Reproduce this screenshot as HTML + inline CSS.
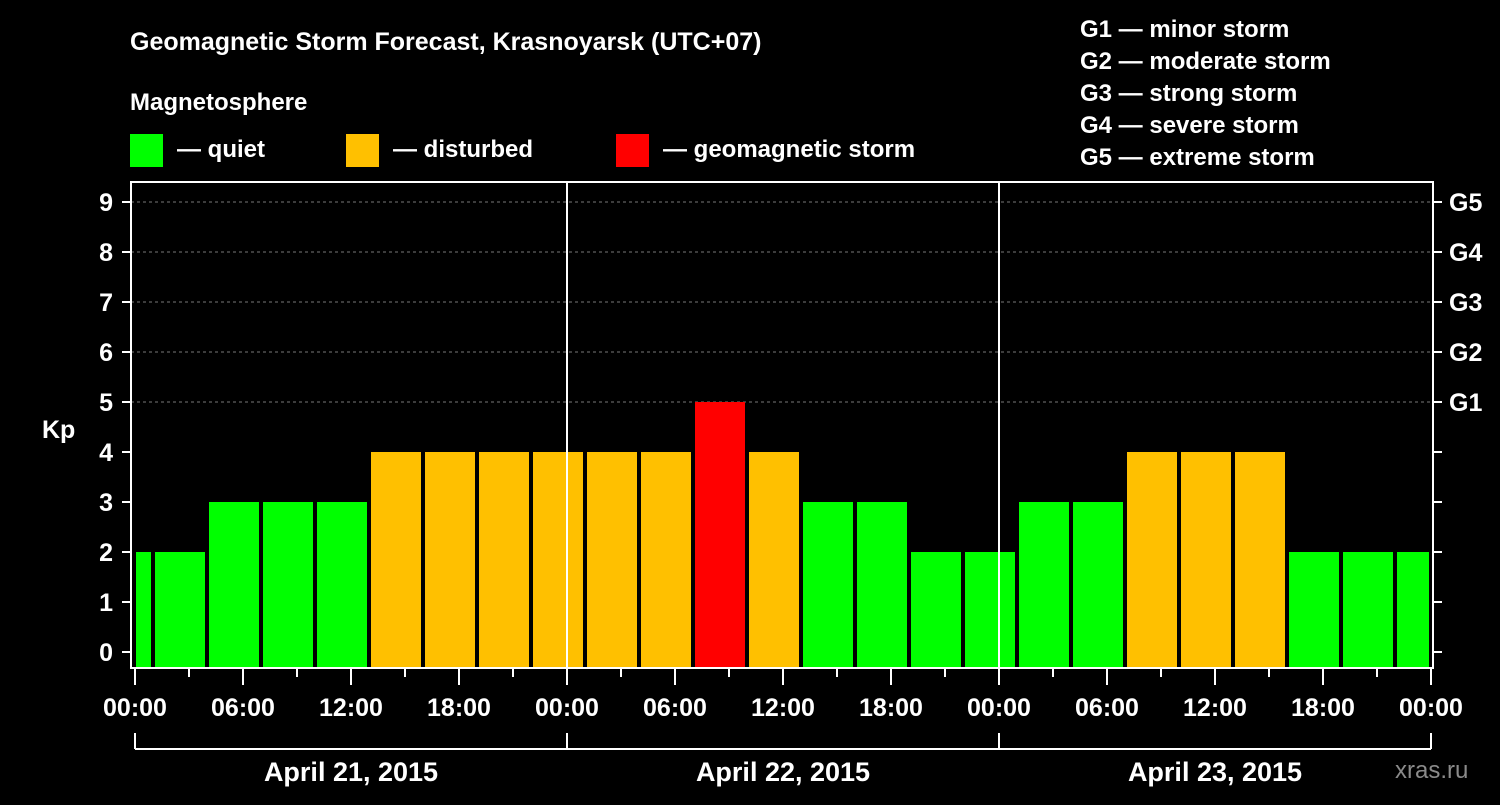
<!DOCTYPE html>
<html><head><meta charset="utf-8"><style>
body{margin:0;background:#000;}
svg text{font-family:"Liberation Sans",sans-serif;font-weight:bold;fill:#fff;}
</style></head><body>
<svg id="c" width="1500" height="800">
<text x="130" y="50" font-size="25">Geomagnetic Storm Forecast, Krasnoyarsk (UTC+07)</text>
<text x="130" y="110" font-size="24">Magnetosphere</text>
<g><rect x="130" y="134" width="33" height="33" fill="#00ff00"/><text x="177" y="157" font-size="24">— quiet</text></g>
<g><rect x="346" y="134" width="33" height="33" fill="#ffc000"/><text x="393" y="157" font-size="24">— disturbed</text></g>
<g><rect x="616" y="134" width="33" height="33" fill="#ff0000"/><text x="663" y="157" font-size="24">— geomagnetic storm</text></g>
<g font-size="24">
<text x="1080" y="37">G1 — minor storm</text><text x="1080" y="69">G2 — moderate storm</text><text x="1080" y="101">G3 — strong storm</text><text x="1080" y="133">G4 — severe storm</text><text x="1080" y="165">G5 — extreme storm</text></g>
<text x="42" y="438" font-size="25">Kp</text>
<text x="1395" y="778" font-size="24" fill="#888" style="fill:#8a8a8a;font-weight:normal">xras.ru</text>
<g id="plot"></g>
</svg>
<script>
const kpValues=[2,2,3,3,3,4,4,4,4,4,4,5,4,3,3,2,2,3,3,4,4,4,2,2,2];
const hourLabels=["00:00","06:00","12:00","18:00"];
const dayLabels=["April 21, 2015","April 22, 2015","April 23, 2015"];
const gLabels=["G1","G2","G3","G4","G5"];
const X0=135,PX=18,L=131,R=1433,T=182,B=668;
const xs=h=>X0+h*PX, ys=k=>652-k*50;
const ns="http://www.w3.org/2000/svg",g=document.getElementById('plot');
function mk(t,a,txt){const e=document.createElementNS(ns,t);for(const k in a)e.setAttribute(k,a[k]);if(txt!==undefined)e.textContent=txt;g.appendChild(e);return e;}
for(let k=6;k<=9;k++){const l=mk('line',{x1:L,x2:R,y1:ys(k),y2:ys(k),stroke:'#777','stroke-dasharray':'3,3'});}
mk('line',{x1:L,x2:R,y1:ys(5),y2:ys(5),stroke:'#777','stroke-dasharray':'3,3'});
kpValues.forEach((v,i)=>{let s=-2+3*i,e=s+3;s=Math.max(s,0);e=Math.min(e,72);
const x1=xs(s)+(s==0?1:2),x2=xs(e)-2;
const col=v>=5?'#ff0000':v==4?'#ffc000':'#00ff00';
const r=mk('rect',{x:x1,y:ys(v),width:x2-x1,height:B-ys(v),fill:col});

});
[1,2].forEach(d=>{const l=mk('line',{x1:xs(24*d),x2:xs(24*d),y1:T,y2:B,stroke:'#fff','stroke-width':2});});
const fr=mk('rect',{x:L,y:T,width:R-L,height:B-T,fill:'none',stroke:'#fff','stroke-width':2});

for(let k=0;k<=9;k++){mk('line',{x1:L-9,x2:L,y1:ys(k),y2:ys(k),stroke:'#fff','stroke-width':2});mk('line',{x1:R,x2:R+9,y1:ys(k),y2:ys(k),stroke:'#fff','stroke-width':2});
const t=mk('text',{x:113,y:ys(k)+9,'font-size':25,'text-anchor':'end'},k);}
gLabels.forEach((s,i)=>{const t=mk('text',{x:1449,y:ys(5+i)+9,'font-size':25},s);});
for(let h=0;h<=72;h+=3){const long=h%6==0;mk('line',{x1:xs(h),x2:xs(h),y1:B,y2:B+(long?17:9),stroke:'#fff','stroke-width':2});
if(long){const t=mk('text',{x:xs(h),y:716,'font-size':25,'text-anchor':'middle'},hourLabels[(h/6)%4]);}}
mk('line',{x1:xs(0),x2:xs(72),y1:749,y2:749,stroke:'#fff','stroke-width':2});
for(let d=0;d<=3;d++)mk('line',{x1:xs(24*d),x2:xs(24*d),y1:733,y2:749,stroke:'#fff','stroke-width':2});
dayLabels.forEach((s,i)=>{const t=mk('text',{x:xs(24*i+12),y:781,'font-size':27,'text-anchor':'middle'},s);});
</script>
</body></html>
